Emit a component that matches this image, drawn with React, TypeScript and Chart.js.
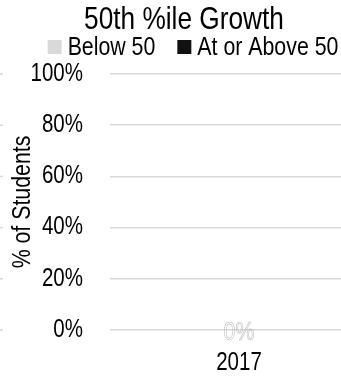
import React, { useEffect, useRef } from "react";
import { Chart, registerables } from "chart.js";
Chart.register(...registerables);

const chartTitle = "50th %ile Growth";
const categories = ["2017"];
const seriesNames = ["Below 50", "At or Above 50"];
const below50 = [0];
const atOrAbove50 = [0];
const seriesColors = ["#d9d9d9", "#111111"];
const yTickValues = [0, 20, 40, 60, 80, 100];
const yAxisTitle = "% of Students";

const FONT = "'Liberation Sans', Arial, sans-serif";
const NARROW = 0.82;

function condenseText(ctx: any) {
  const fill = ctx.fillText.bind(ctx);
  const stroke = ctx.strokeText.bind(ctx);
  const measure = ctx.measureText.bind(ctx);
  ctx.fillText = (t: string, x: number, y: number) => {
    ctx.save();
    ctx.translate(x, y);
    ctx.scale(NARROW, 1);
    fill(t, 0, 0);
    ctx.restore();
  };
  ctx.strokeText = (t: string, x: number, y: number) => {
    ctx.save();
    ctx.translate(x, y);
    ctx.scale(NARROW, 1);
    stroke(t, 0, 0);
    ctx.restore();
  };
  ctx.measureText = (t: string) => {
    const m = measure(t);
    return {
      width: m.width * NARROW,
      actualBoundingBoxAscent: m.actualBoundingBoxAscent,
      actualBoundingBoxDescent: m.actualBoundingBoxDescent,
      actualBoundingBoxLeft: m.actualBoundingBoxLeft * NARROW,
      actualBoundingBoxRight: m.actualBoundingBoxRight * NARROW,
    };
  };
}

const edgeGridPlugin = {
  id: "edgeGrid",
  beforeDraw(chart: any) {
    const y = chart.scales.y;
    const ctx = chart.ctx;
    ctx.save();
    ctx.strokeStyle = "#d9d9d9";
    ctx.lineWidth = 1.5;
    y.ticks.forEach((t: any) => {
      const py = y.getPixelForValue(t.value);
      ctx.beginPath();
      ctx.moveTo(0, py);
      ctx.lineTo(3, py);
      ctx.stroke();
    });
    ctx.restore();
  },
};

const customLegendPlugin = {
  id: "customLegend",
  afterDraw(chart: any) {
    const ctx = chart.ctx;
    const box = 14;
    const gapText = 6;
    const gapItem = 22;
    ctx.save();
    ctx.font = `26px ${FONT}`;
    ctx.textBaseline = "middle";
    ctx.textAlign = "left";
    const items = chart.data.datasets.map((ds: any) => ({
      label: ds.label,
      color: ds.backgroundColor,
      w: ctx.measureText(ds.label).width,
    }));
    const total =
      items.reduce((s: number, it: any) => s + box + gapText + it.w, 0) + gapItem * (items.length - 1);
    let x = chart.width / 2 + 4 - total / 2;
    const cy = chart.chartArea.top - 27;
    items.forEach((it: any) => {
      ctx.fillStyle = it.color;
      ctx.fillRect(x, cy - box / 2, box, box);
      x += box + gapText;
      ctx.fillStyle = "#000";
      ctx.fillText(it.label, x, cy + 1);
      x += it.w + gapItem;
    });
    ctx.restore();
  },
};

const dataLabelPlugin = {
  id: "dataLabels",
  afterDatasetsDraw(chart: any) {
    const ctx = chart.ctx;
    ctx.save();
    ctx.font = `26px ${FONT}`;
    ctx.textAlign = "center";
    ctx.textBaseline = "middle";
    ctx.strokeStyle = "#b8b8b8";
    ctx.lineWidth = 0.6;
    const drawn = new Set<string>();
    chart.data.datasets.forEach((ds: any, i: number) => {
      const meta = chart.getDatasetMeta(i);
      meta.data.forEach((bar: any, j: number) => {
        const text = `${ds.data[j]}%`;
        const key = `${Math.round(bar.x)}|${Math.round(bar.y)}|${text}`;
        if (drawn.has(key)) return;
        drawn.add(key);
        ctx.strokeText(text, bar.x, bar.y + 3);
      });
    });
    ctx.restore();
  },
};

export default function App() {
  const ref = useRef<HTMLCanvasElement | null>(null);
  useEffect(() => {
    if (!ref.current) return;
    condenseText(ref.current.getContext("2d"));
    const chart = new Chart(ref.current, {
      type: "bar",
      data: {
        labels: categories,
        datasets: [
          { label: seriesNames[0], data: below50, backgroundColor: seriesColors[0], borderWidth: 0 },
          { label: seriesNames[1], data: atOrAbove50, backgroundColor: seriesColors[1], borderWidth: 0 },
        ],
      },
      options: {
        animation: false,
        responsive: false,
        maintainAspectRatio: false,
        layout: { padding: { left: 0, right: 10, top: 0, bottom: 1 } },
        plugins: {
          title: {
            display: true,
            text: chartTitle,
            color: "#000",
            font: { family: FONT, size: 32, weight: "normal" },
            padding: { top: 1, bottom: 34.6 },
          },
          legend: { display: false },
          tooltip: { enabled: false },
        },
        scales: {
          x: {
            stacked: true,
            grid: { display: false, drawTicks: false },
            border: { display: false },
            ticks: { color: "#000", font: { family: FONT, size: 25 }, padding: 18 },
            afterFit: (axis: any) => {
              axis.height = 48;
            },
          },
          y: {
            stacked: true,
            min: 0,
            max: 100,
            afterBuildTicks: (axis: any) => {
              axis.ticks = yTickValues.map((v) => ({ value: v }));
            },
            afterFit: (axis: any) => {
              axis.width = 110;
            },
            grid: { color: "#d9d9d9", lineWidth: 1.5, drawTicks: false },
            border: { display: false },
            ticks: {
              color: "#000",
              font: { family: FONT, size: 25 },
              padding: 27,
              callback: (v: any) => `${v}%`,
            },
            title: {
              display: true,
              text: yAxisTitle,
              color: "#000",
              font: { family: FONT, size: 26 },
              padding: { top: 7, bottom: 0 },
            },
          },
        },
      },
      plugins: [edgeGridPlugin, dataLabelPlugin, customLegendPlugin],
    });
    return () => chart.destroy();
  }, []);
  return (
    <div style={{ position: "fixed", left: 0, top: 0, width: 341, height: 379, overflow: "hidden", background: "#fff" }}>
      <canvas ref={ref} width={378} height={379} style={{ display: "block", width: 378, height: 379 }} />
    </div>
  );
}
